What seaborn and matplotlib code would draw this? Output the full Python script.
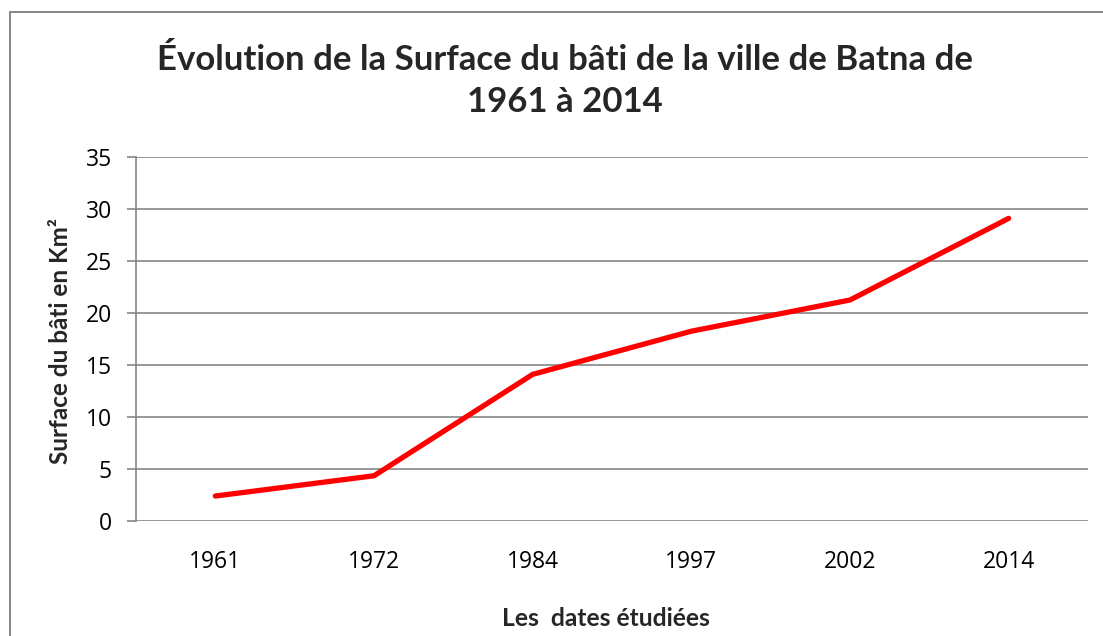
import matplotlib
matplotlib.use("Agg")
import matplotlib.pyplot as plt
from matplotlib.patches import Rectangle
import seaborn as sns
import pandas as pd

# Built-up surface of Batna (km²) per surveyed year
years = ["1961", "1972", "1984", "1997", "2002", "2014"]
surface_km2 = [2.4, 4.35, 14.1, 18.25, 21.25, 29.1]

title_text = "Évolution de la Surface du bâti de la ville de Batna de\n1961 à 2014"
x_label = "Les  dates étudiées"
y_label = "Surface du bâti en Km²"
y_ticks = [0, 5, 10, 15, 20, 25, 30, 35]

df = pd.DataFrame({"annee": years, "surface": surface_km2})

sns.set_theme(style="white")
plt.rcParams["font.family"] = ["Open Sans", "DejaVu Sans"]

W, H = 1103, 636
fig = plt.figure(figsize=(W / 100, H / 100), dpi=100)
ax = fig.add_axes([136 / W, 1 - 521 / H, (1088 - 136) / W, (521 - 157) / H])

grid_col = "#868686"

sns.lineplot(data=df, x="annee", y="surface", ax=ax, color="#FF0000",
             linewidth=3.8, sort=False, solid_capstyle="round",
             solid_joinstyle="round")

ax.set_xlim(-0.5, len(years) - 0.5)
ax.set_ylim(0, 35)
ax.set_yticks(y_ticks)
ax.set_yticklabels([str(v) for v in y_ticks])
for v in y_ticks:
    ax.axhline(v, color=grid_col, linewidth=1.2, zorder=0)

for s in ["top", "right", "bottom"]:
    ax.spines[s].set_visible(False)
ax.spines["left"].set_color(grid_col)
ax.spines["left"].set_linewidth(1.2)

ax.tick_params(axis="y", which="major", left=True, length=6.5, width=1.2,
               color=grid_col, pad=11, labelsize=16.5, labelcolor="black")
ax.tick_params(axis="x", which="major", bottom=False, pad=15,
               labelsize=16.5, labelcolor="black")
ax.set_xlabel("")
ax.set_ylabel("")

# Chart frame around the whole figure
fig.patches.append(Rectangle((10 / W, -0.2), 1.5, 1 - 12 / H + 0.2,
                             transform=fig.transFigure, fill=False,
                             edgecolor=grid_col, linewidth=1.4))

bold_family = ["Lato", "DejaVu Sans"]
fig.text(565 / W, 1 - 81 / H, title_text, ha="center", va="center",
         fontsize=25, fontweight="bold", family=bold_family,
         linespacing=1.42)
fig.text(606 / W, 1 - 619 / H, x_label, ha="center", va="center",
         fontsize=17.7, fontweight="bold", family=bold_family)
fig.text(61 / W, 1 - 341 / H, y_label, ha="center", va="center",
         rotation=90, fontsize=17.5, fontweight="bold", family=bold_family)

fig.savefig("out.png", dpi=100)
